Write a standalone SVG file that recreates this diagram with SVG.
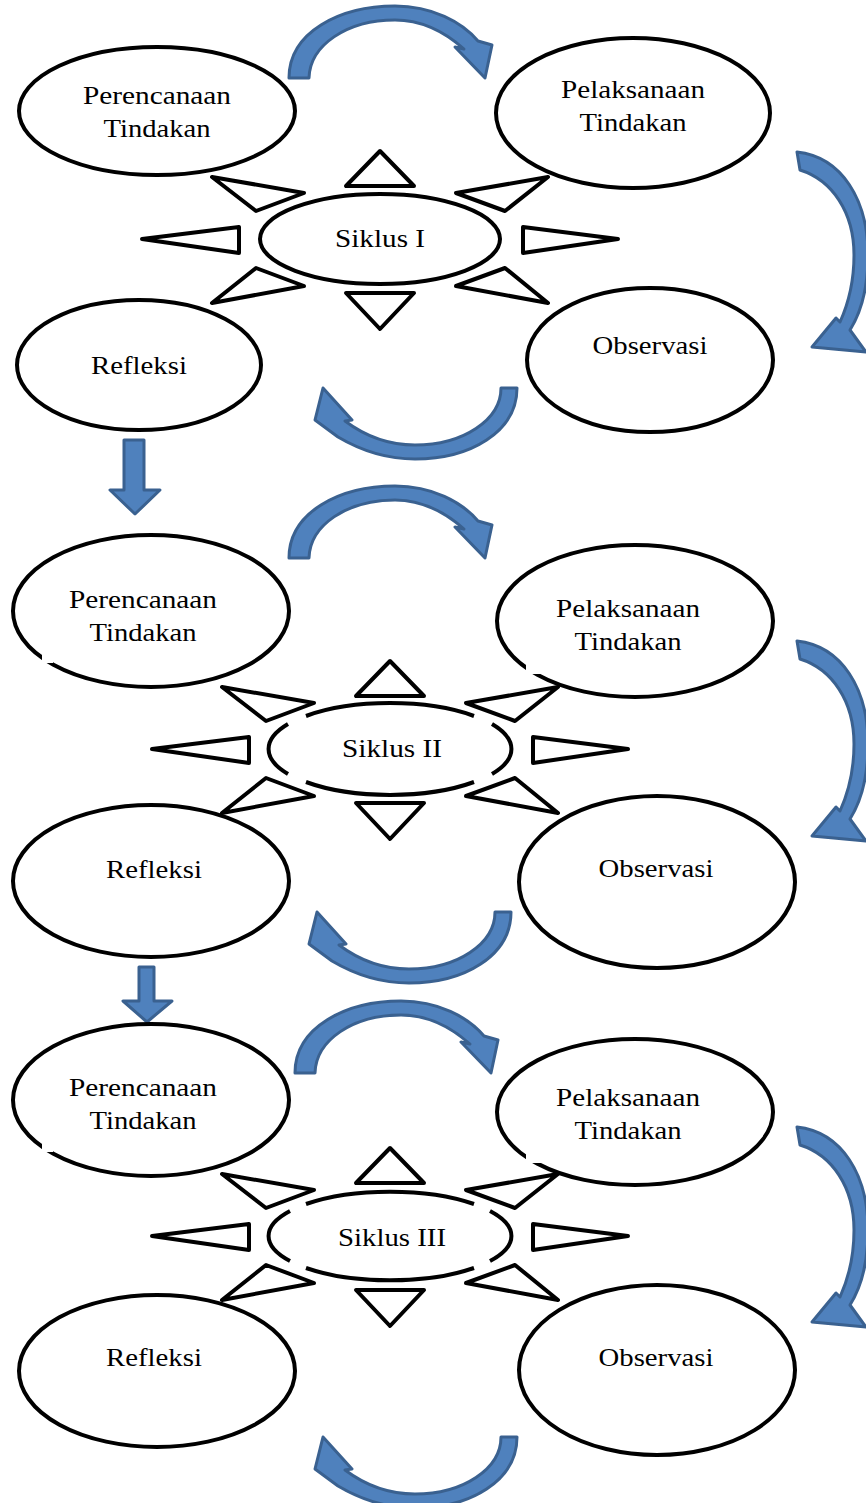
<svg xmlns="http://www.w3.org/2000/svg" xmlns:xlink="http://www.w3.org/1999/xlink" width="866" height="1503" viewBox="0 0 866 1503">
<style>
.node{fill:#fff;stroke:#000;stroke-width:4}
.arc{fill:none;stroke:#000;stroke-width:4}
.tri{fill:#fff;stroke:#000;stroke-width:4;stroke-linejoin:round}
.t{font-family:"Liberation Serif","Times New Roman",serif;font-size:26px;fill:#000;text-anchor:middle}
.ba{fill:#4F81BD;stroke:#3A6190;stroke-width:3;stroke-linejoin:round}
.gap{fill:#fff}
</style>
<defs>
<g id="rays">
<polygon class="tri" points="380,151 346,186 414,186"/>
<polygon class="tri" points="212,177 304,193 256,211"/>
<polygon class="tri" points="548,177 456,193 505,211"/>
<polygon class="tri" points="142,239 239,227 239,253"/>
<polygon class="tri" points="618,239 523,227 523,253"/>
<polygon class="tri" points="212,303 304,286 256,268"/>
<polygon class="tri" points="548,303 456,286 505,268"/>
<polygon class="tri" points="346,293 414,293 380,329"/>
</g>
<path id="arTop" class="ba" d="M289,78 C289,32 340,6 395,6 C432,6 462,22 478,41 L492,45 L485,78 L455,47 L464,49 C446,33 422,20 395,20 C347,20 310,45 309,78 Z"/>
<path id="arRight" class="ba" d="M797,152 C842,157 868,200 868,255 C868,290 860,314 850,330 L866,352 L812,347 L836,318 L840,322 C850,300 854,280 854,255 C854,212 832,180 800,170 Z"/>
<path id="arBottom" class="ba" d="M517,388 C517,432 470,459 415,459 C384,459 360,450 338,437 L315,420 L323,388 L352,420 L345,421 C365,436 390,445 415,445 C463,445 501,420 501,388 Z"/>
</defs>

<g id="connectors">
<use xlink:href="#arTop"/>
<use xlink:href="#arRight"/>
<use xlink:href="#arBottom"/>
<path class="ba" d="M124,440 H144 V490 H160 L135,514 L110,490 H124 Z"/>
<use xlink:href="#arTop" transform="translate(0,480)"/>
<use xlink:href="#arRight" transform="translate(0,489)"/>
<use xlink:href="#arBottom" transform="translate(-6,524)"/>
<path class="ba" d="M139,967 H154 V1001 H172 L147,1022 L123,1001 H139 Z"/>
<use xlink:href="#arTop" transform="translate(6,995)"/>
<use xlink:href="#arRight" transform="translate(0,975)"/>
<use xlink:href="#arBottom" transform="translate(0,1049)"/>
</g>

<!-- Cycle I -->
<g id="rays1"><use xlink:href="#rays"/></g>
<g id="perencanaan1">
<ellipse class="node" cx="157" cy="111" rx="138" ry="64"/>
<text class="t" x="157" y="104" textLength="148" lengthAdjust="spacingAndGlyphs">Perencanaan</text>
<text class="t" x="157" y="137" textLength="107" lengthAdjust="spacingAndGlyphs">Tindakan</text>
</g>
<g id="pelaksanaan1">
<ellipse class="node" cx="633" cy="113" rx="137" ry="75"/>
<text class="t" x="633" y="98" textLength="144" lengthAdjust="spacingAndGlyphs">Pelaksanaan</text>
<text class="t" x="633" y="131" textLength="107" lengthAdjust="spacingAndGlyphs">Tindakan</text>
</g>
<g id="siklus1">
<ellipse class="node" cx="380" cy="239" rx="120" ry="45"/>
<text class="t" x="380" y="247" textLength="90" lengthAdjust="spacingAndGlyphs">Siklus I</text>
</g>
<g id="refleksi1">
<ellipse class="node" cx="139" cy="365" rx="122" ry="65"/>
<text class="t" x="139" y="374" textLength="96" lengthAdjust="spacingAndGlyphs">Refleksi</text>
</g>
<g id="observasi1">
<ellipse class="node" cx="650" cy="360" rx="123" ry="72"/>
<text class="t" x="650" y="354" textLength="115" lengthAdjust="spacingAndGlyphs">Observasi</text>
</g>

<!-- Cycle II -->
<g id="rays2" transform="translate(10,510)"><use xlink:href="#rays"/></g>
<g id="perencanaan2">
<ellipse class="node" cx="151" cy="611" rx="138" ry="76"/>
<rect class="gap" x="42" y="654" width="11" height="9"/>
<text class="t" x="143" y="608" textLength="148" lengthAdjust="spacingAndGlyphs">Perencanaan</text>
<text class="t" x="143" y="641" textLength="107" lengthAdjust="spacingAndGlyphs">Tindakan</text>
</g>
<g id="pelaksanaan2">
<ellipse class="node" cx="635" cy="621" rx="138" ry="76"/>
<rect class="gap" x="526" y="663" width="15" height="11"/>
<text class="t" x="628" y="617" textLength="144" lengthAdjust="spacingAndGlyphs">Pelaksanaan</text>
<text class="t" x="628" y="650" textLength="107" lengthAdjust="spacingAndGlyphs">Tindakan</text>
</g>
<g id="siklus2">
<path class="arc" d="M306,716 A121 46 0 0 1 474,716"/>
<path class="arc" d="M306,782 A121 46 0 0 0 474,782"/>
<path class="arc" d="M288,724 A121 46 0 0 0 288,774"/>
<path class="arc" d="M492,724 A121 46 0 0 1 492,774"/>
<text class="t" x="392" y="757" textLength="100" lengthAdjust="spacingAndGlyphs">Siklus II</text>
</g>
<g id="refleksi2">
<ellipse class="node" cx="151" cy="881" rx="138" ry="76"/>
<text class="t" x="154" y="878" textLength="96" lengthAdjust="spacingAndGlyphs">Refleksi</text>
</g>
<g id="observasi2">
<ellipse class="node" cx="657" cy="882" rx="138" ry="86"/>
<text class="t" x="656" y="877" textLength="115" lengthAdjust="spacingAndGlyphs">Observasi</text>
</g>

<!-- Cycle III -->
<g id="rays3" transform="translate(10,997)"><use xlink:href="#rays"/></g>
<g id="perencanaan3">
<ellipse class="node" cx="151" cy="1100" rx="138" ry="76"/>
<rect class="gap" x="42" y="1143" width="11" height="9"/>
<text class="t" x="143" y="1096" textLength="148" lengthAdjust="spacingAndGlyphs">Perencanaan</text>
<text class="t" x="143" y="1129" textLength="107" lengthAdjust="spacingAndGlyphs">Tindakan</text>
</g>
<g id="pelaksanaan3">
<ellipse class="node" cx="635" cy="1112" rx="138" ry="73"/>
<rect class="gap" x="526" y="1152" width="15" height="11"/>
<text class="t" x="628" y="1106" textLength="144" lengthAdjust="spacingAndGlyphs">Pelaksanaan</text>
<text class="t" x="628" y="1139" textLength="107" lengthAdjust="spacingAndGlyphs">Tindakan</text>
</g>
<g id="siklus3">
<path class="arc" d="M306,1204 A121 44 0 0 1 474,1204"/>
<path class="arc" d="M306,1268 A121 44 0 0 0 474,1268"/>
<path class="arc" d="M290,1211 A121 44 0 0 0 290,1261"/>
<path class="arc" d="M490,1211 A121 44 0 0 1 490,1261"/>
<text class="t" x="392" y="1246" textLength="108" lengthAdjust="spacingAndGlyphs">Siklus III</text>
</g>
<g id="refleksi3">
<ellipse class="node" cx="157" cy="1371" rx="138" ry="76"/>
<text class="t" x="154" y="1366" textLength="96" lengthAdjust="spacingAndGlyphs">Refleksi</text>
</g>
<g id="observasi3">
<ellipse class="node" cx="657" cy="1370" rx="138" ry="85"/>
<text class="t" x="656" y="1366" textLength="115" lengthAdjust="spacingAndGlyphs">Observasi</text>
</g>
</svg>
